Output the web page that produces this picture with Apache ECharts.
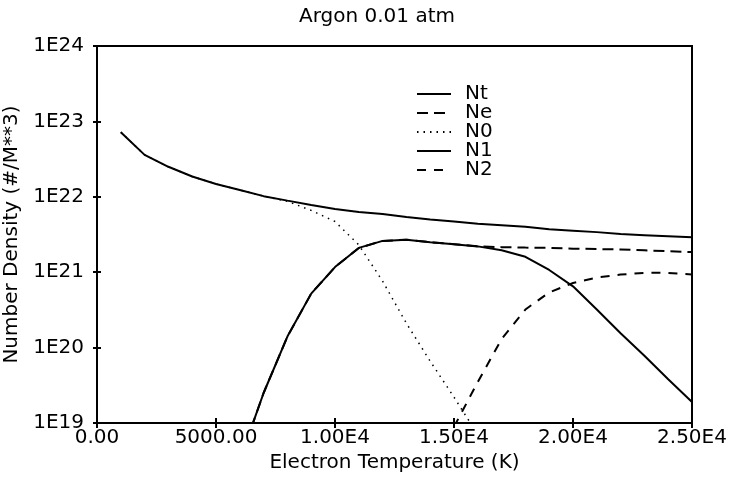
<!DOCTYPE html>
<html>
<head>
<meta charset="utf-8">
<script src="https://cdn.jsdelivr.net/npm/echarts@6/dist/echarts.min.js"></script>
<style>
  html, body { margin: 0; padding: 0; background: #fff; }
  #chart { width: 732px; height: 487px; }
</style>
</head>
<body>
<div id="chart"></div>
<script>
// electron temperature (K)
const temps = [1000, 2000, 3000, 4000, 5000, 6000, 7000, 8000, 9000, 10000, 11000, 12000, 13000,
  14000, 15000, 16000, 17000, 18000, 19000, 20000, 21000, 22000, 23000, 24000, 25000];

// number densities (#/M**3), null = not plotted
const nt = [7.2e22, 3.6e22, 2.5e22, 1.86e22, 1.48e22, 1.23e22, 1.02e22, 8.9e21, 7.8e21, 6.9e21, 6.3e21, 5.9e21, 5.4e21,
  5.0e21, 4.7e21, 4.4e21, 4.2e21, 4.0e21, 3.7e21, 3.55e21, 3.4e21, 3.2e21, 3.1e21, 3.0e21, 2.9e21];
const ne = [null, null, null, null, null, 3.2e18, 2.5e19, 1.4e20, 5.2e20, 1.17e21, 2.1e21, 2.6e21, 2.7e21,
  2.5e21, 2.35e21, 2.2e21, 2.15e21, 2.12e21, 2.1e21, 2.05e21, 2.03e21, 2.0e21, 1.95e21, 1.9e21, 1.85e21];
const n0 = [7.2e22, 3.6e22, 2.5e22, 1.86e22, 1.48e22, 1.23e22, 1.02e22, 8.7e21, 6.6e21, 4.7e21, 2.3e21, 7.6e20, 2.1e20,
  6.6e19, 2.2e19, 7.0e18, null, null, null, null, null, null, null, null, null];
const n1 = [null, null, null, null, null, 3.2e18, 2.5e19, 1.4e20, 5.2e20, 1.17e21, 2.1e21, 2.6e21, 2.7e21,
  2.5e21, 2.35e21, 2.2e21, 1.95e21, 1.6e21, 1.07e21, 6.5e20, 3.2e20, 1.55e20, 7.8e19, 3.8e19, 1.9e19];
const n2 = [null, null, null, null, null, null, null, null, null, null, null, null, null,
  null, 8.9e18, 3.5e19, 1.3e20, 3.2e20, 5.4e20, 7.2e20, 8.5e20, 9.3e20, 9.8e20, 9.8e20, 9.3e20];

const seriesNames = ['Nt', 'Ne', 'N0', 'N1', 'N2'];
const xTicks = [0, 5000, 10000, 15000, 20000, 25000];

const pairs = (ys) => temps.map((t, i) => [t, ys[i]]);
const font = 'DejaVu Sans';
const fs = 20;

const fmtX = (v) => (v < 10000 ? v.toFixed(2) : (v / 1e4).toFixed(2) + 'E4');
const fmtY = (v) => '1E' + Math.round(Math.log10(v));

const myChart = echarts.init(document.getElementById('chart'), null, { renderer: 'canvas' });

const lineSeries = (name, ys, type, width) => ({
  name: name,
  type: 'line',
  data: pairs(ys),
  symbol: 'none',
  connectNulls: false,
  clip: true,
  z: 3,
  lineStyle: { color: '#000', width: width, type: type },
  itemStyle: { color: '#000' },
  emphasis: { disabled: true }
});

const option = {
  backgroundColor: '#fff',
  animation: false,
  textStyle: { fontFamily: font, color: '#000' },
  title: {
    text: 'Argon 0.01 atm',
    left: 294,
    top: 2,
    textStyle: { fontFamily: font, fontSize: fs, fontWeight: 'normal', color: '#000' }
  },
  legend: {
    orient: 'vertical',
    left: 411,
    top: 79,
    itemWidth: 34,
    itemHeight: 10,
    itemGap: -1,
    data: seriesNames,
    selectedMode: false,
    itemStyle: { opacity: 0 },
    textStyle: { fontFamily: font, fontSize: fs, lineHeight: 19, color: '#000', padding: [0, 0, 0, 9] }
  },
  grid: {
    left: 97,
    right: 40,
    top: 46,
    bottom: 64,
    containLabel: false,
    outerBoundsMode: 'none',
    show: true,
    borderColor: '#000',
    borderWidth: 2,
    backgroundColor: 'transparent'
  },
  xAxis: [
    {
      type: 'value',
      min: xTicks[0],
      max: xTicks[xTicks.length - 1],
      interval: 5000,
      name: 'Electron Temperature (K)',
      nameLocation: 'middle',
      nameGap: 28,
      nameTextStyle: { fontFamily: font, fontSize: fs, color: '#000' },
      axisLine: { show: true, lineStyle: { color: '#000', width: 2 } },
      axisTick: { show: true, inside: false, length: 5, lineStyle: { color: '#000', width: 2 } },
      axisLabel: { formatter: fmtX, fontFamily: font, fontSize: fs, color: '#000', margin: 5 },
      splitLine: { show: false }
    },
    {
      type: 'value',
      position: 'bottom',
      min: xTicks[0],
      max: xTicks[xTicks.length - 1],
      interval: 5000,
      axisLine: { show: false },
      axisTick: { show: true, inside: true, length: 5, lineStyle: { color: '#000', width: 2 } },
      axisLabel: { show: false },
      splitLine: { show: false }
    }
  ],
  yAxis: [
    {
      type: 'log',
      logBase: 10,
      min: 1e19,
      max: 1e24,
      name: 'Number Density (#/M**3)',
      nameLocation: 'middle',
      nameRotate: 90,
      nameGap: 68,
      nameTextStyle: { fontFamily: font, fontSize: fs, color: '#000' },
      axisLine: { show: true, lineStyle: { color: '#000', width: 2 } },
      axisTick: { show: true, inside: false, length: 4, lineStyle: { color: '#000', width: 2 } },
      axisLabel: { formatter: fmtY, fontFamily: font, fontSize: fs, color: '#000', margin: 13 },
      splitLine: { show: false }
    },
    {
      type: 'log',
      logBase: 10,
      position: 'left',
      min: 1e19,
      max: 1e24,
      axisLine: { show: false },
      axisTick: { show: true, inside: true, length: 4, lineStyle: { color: '#000', width: 2 } },
      axisLabel: { show: false },
      splitLine: { show: false }
    }
  ],
  series: [
    lineSeries('Nt', nt, 'solid', 2),
    lineSeries('Ne', ne, [11, 6], 2),
    lineSeries('N0', n0, [1.5, 5], 1.5),
    lineSeries('N1', n1, 'solid', 2),
    lineSeries('N2', n2, [9, 8], 2)
  ]
};

myChart.setOption(option);
</script>
</body>
</html>
